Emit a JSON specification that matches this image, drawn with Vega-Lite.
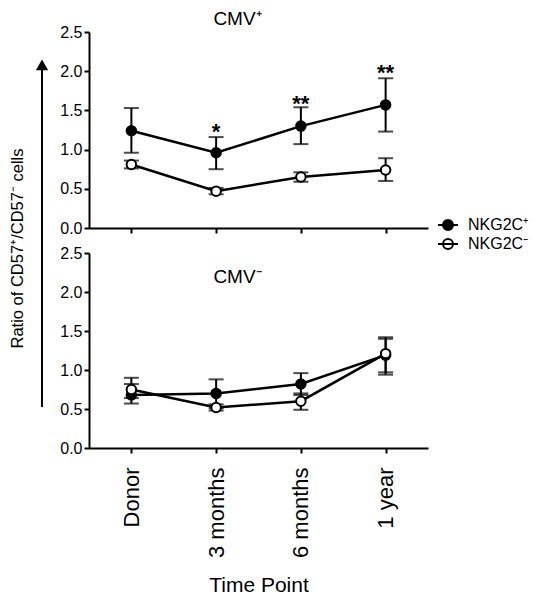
{
  "$schema": "https://vega.github.io/schema/vega-lite/v6.json",
  "padding": {"left": 9, "top": 10, "right": 0, "bottom": 0},
  "background": "white",
  "config": {
    "font": "Liberation Sans",
    "view": {"stroke": null},
    "axis": {
      "domainColor": "black", "domainWidth": 2, "tickColor": "black", "tickWidth": 2, "tickSize": 5,
      "labelColor": "black", "titleColor": "black", "labelFontSize": 16, "grid": false,
      "labelFont": "Liberation Sans", "titleFont": "Liberation Sans", "titleFontWeight": "normal"
    },
    "axisY": {"labelOverlap": false, "labelPadding": 2},
    "legend": {
      "orient": "none", "legendX": 405, "legendY": 185, "title": null,
      "labelFontSize": 16, "labelFont": "Liberation Sans", "labelColor": "black",
      "symbolType": "M-2,0L2,0M-1,0A1,1,0,1,0,1,0A1,1,0,1,0,-1,0Z",
      "symbolSize": 100, "symbolStrokeColor": "black", "symbolStrokeWidth": 2,
      "labelOffset": 12, "rowPadding": 1
    }
  },
  "datasets": {
    "cmvpos": [
      {"time": "Donor", "group": "NKG2C⁺", "mean": 1.24, "lo": 0.96, "hi": 1.53},
      {"time": "3 months", "group": "NKG2C⁺", "mean": 0.96, "lo": 0.75, "hi": 1.16},
      {"time": "6 months", "group": "NKG2C⁺", "mean": 1.30, "lo": 1.07, "hi": 1.54},
      {"time": "1 year", "group": "NKG2C⁺", "mean": 1.57, "lo": 1.23, "hi": 1.91},
      {"time": "Donor", "group": "NKG2C⁻", "mean": 0.81, "lo": 0.76, "hi": 0.86},
      {"time": "3 months", "group": "NKG2C⁻", "mean": 0.47, "lo": 0.43, "hi": 0.51},
      {"time": "6 months", "group": "NKG2C⁻", "mean": 0.65, "lo": 0.59, "hi": 0.71},
      {"time": "1 year", "group": "NKG2C⁻", "mean": 0.74, "lo": 0.60, "hi": 0.89}
    ],
    "cmvneg": [
      {"time": "Donor", "group": "NKG2C⁺", "mean": 0.68, "lo": 0.57, "hi": 0.82},
      {"time": "3 months", "group": "NKG2C⁺", "mean": 0.70, "lo": 0.51, "hi": 0.88},
      {"time": "6 months", "group": "NKG2C⁺", "mean": 0.82, "lo": 0.68, "hi": 0.96},
      {"time": "1 year", "group": "NKG2C⁺", "mean": 1.19, "lo": 0.97, "hi": 1.42},
      {"time": "Donor", "group": "NKG2C⁻", "mean": 0.75, "lo": 0.64, "hi": 0.90},
      {"time": "3 months", "group": "NKG2C⁻", "mean": 0.52, "lo": 0.48, "hi": 0.56},
      {"time": "6 months", "group": "NKG2C⁻", "mean": 0.60, "lo": 0.49, "hi": 0.70},
      {"time": "1 year", "group": "NKG2C⁻", "mean": 1.21, "lo": 0.94, "hi": 1.40}
    ],
    "stars": [
      {"time": "3 months", "y": 1.29, "label": "*"},
      {"time": "6 months", "y": 1.65, "label": "**"},
      {"time": "1 year", "y": 2.04, "label": "**"}
    ],
    "arrow": [
      {"pos": "a", "start": 0.132, "end": 0.924, "tip": 0.924}
    ]
  },
  "hconcat": [
    {
      "width": 14,
      "height": 432,
      "data": {"name": "arrow"},
      "layer": [
        {
          "mark": {"type": "rule", "color": "black", "strokeWidth": 2},
          "encoding": {
            "x": {"field": "pos", "type": "nominal", "scale": {"type": "point", "padding": 0.5}, "axis": null},
            "y": {"field": "start", "type": "quantitative", "scale": {"domain": [0, 1]},
                  "axis": {"title": "Ratio of CD57⁺/CD57⁻ cells", "domain": false, "ticks": false, "labels": false,
                           "titleFontSize": 16.5, "titlePadding": 10}},
            "y2": {"field": "end"}
          }
        },
        {
          "mark": {"type": "point", "shape": "triangle-up", "filled": true, "color": "black", "size": 150, "opacity": 1},
          "encoding": {
            "x": {"field": "pos", "type": "nominal"},
            "y": {"field": "tip", "type": "quantitative"}
          }
        }
      ]
    },
    {
      "spacing": 9,
      "vconcat": [
        {
          "width": 339,
          "height": 196,
          "title": {"text": "CMV⁺", "offset": -5, "fontSize": 19, "fontWeight": "normal", "color": "black", "font": "Liberation Sans", "dx": -21},
          "encoding": {
            "x": {"field": "time", "type": "ordinal", "sort": ["Donor", "3 months", "6 months", "1 year"],
                  "scale": {"type": "point", "padding": 0.5, "domain": ["Donor", "3 months", "6 months", "1 year"]},
                  "axis": {"labels": false, "title": null}}
          },
          "layer": [
            {
              "data": {"name": "cmvpos"},
              "encoding": {
                "y": {"field": "mean", "type": "quantitative", "scale": {"domain": [0, 2.5], "nice": false},
                      "axis": {"values": [0, 0.5, 1, 1.5, 2, 2.5], "format": ".1f", "title": null}}
              },
              "layer": [
                {
                  "mark": {"type": "line", "color": "black", "strokeWidth": 2.5},
                  "encoding": {"detail": {"field": "group"}}
                },
                {
                  "mark": {"type": "rule", "color": "black", "strokeWidth": 2},
                  "encoding": {
                    "y": {"field": "lo", "type": "quantitative", "axis": {"values": [0, 0.5, 1, 1.5, 2, 2.5], "format": ".1f", "title": null}},
                    "y2": {"field": "hi"}
                  }
                },
                {
                  "mark": {"type": "tick", "color": "black", "size": 15, "thickness": 2, "orient": "horizontal"},
                  "encoding": {
                    "y": {"field": "lo", "type": "quantitative", "axis": {"values": [0, 0.5, 1, 1.5, 2, 2.5], "format": ".1f", "title": null}}
                  }
                },
                {
                  "mark": {"type": "tick", "color": "black", "size": 15, "thickness": 2, "orient": "horizontal"},
                  "encoding": {
                    "y": {"field": "hi", "type": "quantitative", "axis": {"values": [0, 0.5, 1, 1.5, 2, 2.5], "format": ".1f", "title": null}}
                  }
                },
                {
                  "mark": {"type": "point", "shape": "circle", "filled": true, "stroke": "black", "strokeWidth": 2, "size": 90, "opacity": 1},
                  "encoding": {
                    "fill": {"field": "group", "type": "nominal", "scale": {"domain": ["NKG2C⁺", "NKG2C⁻"], "range": ["black", "white"]}}
                  }
                }
              ]
            },
            {
              "data": {"name": "stars"},
              "mark": {"type": "text", "fontSize": 22, "fontWeight": "bold", "color": "black", "baseline": "middle", "dy": 5},
              "encoding": {
                "y": {"field": "y", "type": "quantitative", "axis": {"values": [0, 0.5, 1, 1.5, 2, 2.5], "format": ".1f", "title": null}},
                "text": {"field": "label"}
              }
            }
          ]
        },
        {
          "width": 339,
          "height": 195,
          "title": {"text": "CMV⁻", "offset": -42, "fontSize": 19, "fontWeight": "normal", "color": "black", "font": "Liberation Sans", "dx": -21},
          "data": {"name": "cmvneg"},
          "encoding": {
            "x": {"field": "time", "type": "ordinal", "sort": ["Donor", "3 months", "6 months", "1 year"],
                  "scale": {"type": "point", "padding": 0.5, "domain": ["Donor", "3 months", "6 months", "1 year"]},
                  "axis": {"labelAngle": -90, "labelFontSize": 22, "labelPadding": 14, "title": "Time Point", "titleFontSize": 21, "titlePadding": 17}},
            "y": {"field": "mean", "type": "quantitative", "scale": {"domain": [0, 2.5], "nice": false},
                  "axis": {"values": [0, 0.5, 1, 1.5, 2, 2.5], "format": ".1f", "title": null}}
          },
          "layer": [
            {
              "mark": {"type": "line", "color": "black", "strokeWidth": 2.5},
              "encoding": {"detail": {"field": "group"}}
            },
            {
              "mark": {"type": "rule", "color": "black", "strokeWidth": 2},
              "encoding": {
                "y": {"field": "lo", "type": "quantitative", "axis": {"values": [0, 0.5, 1, 1.5, 2, 2.5], "format": ".1f", "title": null}},
                "y2": {"field": "hi"}
              }
            },
            {
              "mark": {"type": "tick", "color": "black", "size": 15, "thickness": 2, "orient": "horizontal"},
              "encoding": {
                "y": {"field": "lo", "type": "quantitative", "axis": {"values": [0, 0.5, 1, 1.5, 2, 2.5], "format": ".1f", "title": null}}
              }
            },
            {
              "mark": {"type": "tick", "color": "black", "size": 15, "thickness": 2, "orient": "horizontal"},
              "encoding": {
                "y": {"field": "hi", "type": "quantitative", "axis": {"values": [0, 0.5, 1, 1.5, 2, 2.5], "format": ".1f", "title": null}}
              }
            },
            {
              "mark": {"type": "point", "shape": "circle", "filled": true, "stroke": "black", "strokeWidth": 2, "size": 90, "opacity": 1},
              "encoding": {
                "fill": {"field": "group", "type": "nominal", "scale": {"domain": ["NKG2C⁺", "NKG2C⁻"], "range": ["black", "white"]}}
              }
            }
          ]
        }
      ]
    }
  ],
  "spacing": 10
}
